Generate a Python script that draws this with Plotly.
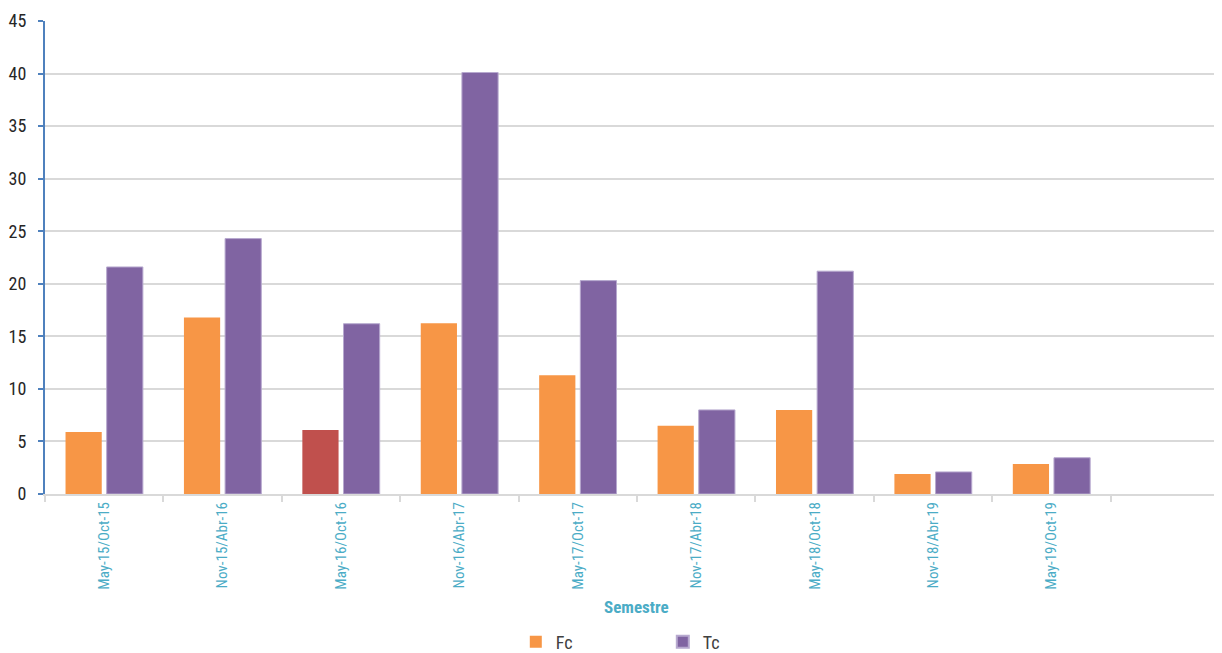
import plotly.graph_objects as go

categories = ["May-15/Oct-15", "Nov-15/Abr-16", "May-16/Oct-16", "Nov-16/Abr-17",
              "May-17/Oct-17", "Nov-17/Abr-18", "May-18/Oct-18", "Nov-18/Abr-19",
              "May-19/Oct-19", " "]
fc_values = [5.9, 16.8, 6.1, 16.25, 11.3, 6.5, 8.0, 1.9, 2.85, None]
tc_values = [21.6, 24.3, 16.2, 40.1, 20.3, 8.0, 21.2, 2.1, 3.45, None]
y_ticks = [0, 5, 10, 15, 20, 25, 30, 35, 40, 45]

orange = "#F79646"
red = "#C0504D"
purple = "#8064A2"
fc_colors = [orange, orange, red, orange, orange, orange, orange, orange, orange, orange]

FONT = "Liberation Sans Narrow, Roboto Condensed, Arial Narrow, Liberation Sans, sans-serif"

fig = go.Figure()
fig.add_trace(go.Bar(name="Fc", x=categories, y=fc_values,
                     marker=dict(color=fc_colors, line=dict(width=0))))
fig.add_trace(go.Bar(name="Tc", x=categories, y=tc_values,
                     marker=dict(color=purple, line=dict(color="#B7A9CF", width=1))))

fig.update_layout(
    width=1222, height=653,
    margin=dict(l=37, r=8, t=13, b=167, autoexpand=False),
    paper_bgcolor="white", plot_bgcolor="white",
    barmode="group", bargap=0.305, bargroupgap=0.12,
    font=dict(family=FONT, size=14, color="#404040"),
    showlegend=True,
    legend=dict(orientation="h", x=0.400, xanchor="left", y=-0.313, yanchor="middle",
                font=dict(family=FONT, size=18, color="#404040"),
                entrywidth=102, entrywidthmode="pixels",
                itemsizing="constant", traceorder="normal"),
    xaxis=dict(
        type="category", range=[-0.5, 9.44], automargin=False,
        showline=True, linecolor="#D9D9D9", linewidth=2,
        ticks="outside", ticklen=6, tickcolor="#D9D9D9", tickwidth=2,
        tickson="boundaries",
        tickangle=-90, tickfont=dict(family=FONT, size=15, color="#4BACC6"),
        showgrid=False,
    ),
    yaxis=dict(
        range=[0, 45], tickvals=y_ticks, automargin=False,
        showline=True, linecolor="#4F81BD", linewidth=2,
        ticks="outside", ticklen=5, tickcolor="#4F81BD", tickwidth=2,
        ticklabelstandoff=8,
        gridcolor="#D9D9D9", gridwidth=2,
        tickfont=dict(family=FONT, size=18, color="#262626"),
        zeroline=False,
    ),
    annotations=[dict(text="<b>Semestre</b>", xref="paper", yref="paper",
                      x=(636 - 45) / 1177, y=-(607 - 494) / 473,
                      xanchor="center", yanchor="middle", showarrow=False,
                      font=dict(family=FONT, size=17, color="#4BACC6"))],
)

fig.write_html("out.html")
